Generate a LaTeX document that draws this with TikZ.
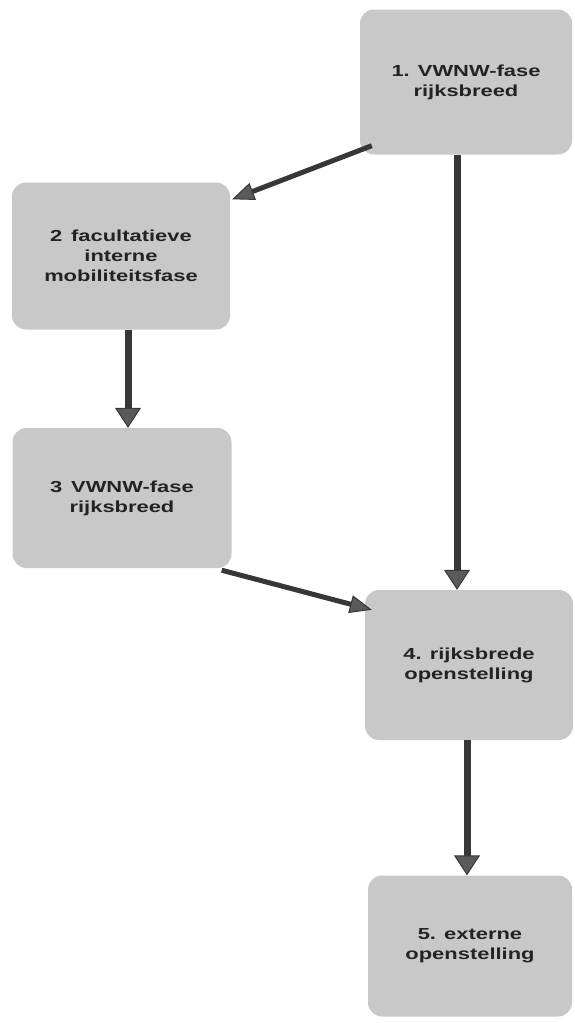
\documentclass[tikz,border=0pt]{standalone}
\usepackage{fontspec}
\newfontfamily\boxfont{Liberation Sans}[FakeStretch=1.37]
\usetikzlibrary{arrows.meta,calc}
\definecolor{boxgray}{RGB}{200,200,200}
\definecolor{arrowdark}{RGB}{55,55,55}
\definecolor{headfill}{RGB}{90,90,90}
\definecolor{txt}{RGB}{35,35,35}
\tikzset{
  stage/.style={rounded corners=14pt, fill=boxgray, draw=none, align=center,
    text=txt, font=\boxfont\bfseries\fontsize{16pt}{20pt}\selectfont, inner sep=0pt},
  flow/.style={draw=arrowdark, line width=5pt,
    -{Triangle[length=22pt,width=18pt,line width=1pt,fill=headfill]}},
  flowv/.style={draw=arrowdark, line width=7pt,
    -{Triangle[length=20pt,width=26pt,line width=1pt,fill=headfill]}}
}
\begin{document}
\begin{tikzpicture}[x=1pt,y=-1pt]
\useasboundingbox (0,0) rectangle (574,1023);
\node[stage, minimum width=212pt, minimum height=145pt] (b1) at (466,82) {1. VWNW-fase\\rijksbreed};
\node[stage, minimum width=218pt, minimum height=147pt] (b2) at (121,256) {2\, facultatieve\\interne\\mobiliteitsfase};
\node[stage, minimum width=219pt, minimum height=140pt] (b3) at (122,498) {3\, VWNW-fase\\rijksbreed};
\node[stage, minimum width=208pt, minimum height=150pt] (b4) at (469,665) {4. rijksbrede\\openstelling};
\node[stage, minimum width=204pt, minimum height=141pt] (b5) at (470,946) {5. externe\\openstelling};
\draw[flow] ([xshift=12pt,yshift=9pt]b1.south west) -- ([xshift=2pt,yshift=-17pt]b2.north east);
\draw[flowv] ([xshift=-9pt]b1.south) -- ([xshift=-12pt]b4.north);
\draw[flowv] ([xshift=7pt]b2.south) -- ([xshift=6pt]b3.north);
\draw[flow] ([xshift=-10pt,yshift=-2pt]b3.south east) -- ([xshift=7pt,yshift=-20pt]b4.north west);
\draw[flowv] ([xshift=-2pt]b4.south) -- ([xshift=-3pt]b5.north);
\end{tikzpicture}
\end{document}
